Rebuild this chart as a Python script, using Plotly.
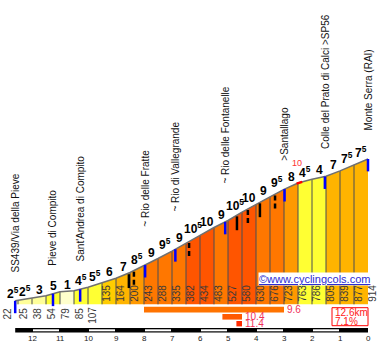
import numpy as np
import plotly.graph_objects as go

# ---------------- data ----------------
km_marks = [12.6, 12.5, 12.0, 11.5, 11.0, 10.5, 10.0, 9.5, 9.0, 8.5, 8.0, 7.5, 7.0,
            6.5, 6.0, 5.5, 5.0, 4.5, 4.0, 3.5, 3.0, 2.5, 2.0, 1.5, 1.0, 0.5, 0.0]
elevations = [22, 25, 38, 54, 79, 85, 107, 135, 164, 200, 243, 288, 335, 382, 434,
              483, 527, 580, 630, 676, 723, 763, 786, 805, 839, 877, 914]
grades = [2.5, 2.5, 3, 5, 1, 4.5, 5.5, 6, 7, 8.5, 9, 9.5, 9, 10.5, 10, 9, 10.5, 10,
          9, 9.5, 8, 4.5, 4, 7, 7.5, 7.5]
place_names = ["SS439/Via della Pieve", "Pieve di Compito", "Sant'Andrea di Compito",
               "~ Rio delle Fratte", "~ Rio di Vallegrande", "~ Rio delle Fontanelle",
               ">Santallago", "Colle del Prato di Calci >SP56", "Monte Serra (RAI)"]
place_km = [12.6, 11.25, 10.28, 7.96, 6.88, 5.1, 2.98, 1.54, 0.0]
place_is_river = [False, False, False, True, True, True, False, False, False]
marker_km = [8.54, 8.36, 6.39, 4.68, 4.29, 3.86, 3.32]
marker_dashed = [False, True, True, False, True, False, True]
max_grade = 10
max_grade_from_km = 2.55
max_grade_to_km = 2.35
best_values = [9.6, 10.4, 11.4]
best_from_km = [8.0, 5.2, 4.7]
best_to_km = [3.0, 4.5, 4.5]
total_km = 12.6
avg_grade = 7.1
km_ticks = list(range(12, -1, -1))
site = "©www.cyclingcols.com"

# ---------------- geometry / style ----------------
W, H = 383, 345
X0_PX, PX_PER_KM = 368.0, 28.0
Y0_PX, PX_PER_M = 304.3, 0.159


def py(px):
    return 1 - px / H


def grade_color(g):
    if g < 2:
        return "#ffffcc"
    if g < 4:
        return "#ffff99"
    if g < 6:
        return "#ffff33"
    if g < 7:
        return "#ffcc00"
    if g < 8:
        return "#ffb400"
    if g < 9:
        return "#ff9900"
    if g < 10:
        return "#ff7700"
    return "#ff5500"


def grade_text(g):
    whole = int(g)
    if g - whole > 0.01:
        return f"<b>{whole}<sup>5</sup></b>"
    return f"<b>{whole}</b>"


def elev_at(k):
    return float(np.interp(k, km_marks[::-1], elevations[::-1]))


FONT = "Liberation Sans, Arial, sans-serif"
fig = go.Figure()

# filled segments
for i in range(len(grades)):
    k0, k1 = km_marks[i], km_marks[i + 1]
    e0, e1 = elevations[i], elevations[i + 1]
    fig.add_trace(go.Scatter(x=[k0, k0, k1, k1, k0], y=[0, e0, e1, 0, 0], mode="lines",
                             fill="toself", fillcolor=grade_color(grades[i]),
                             line=dict(width=0), hoverinfo="skip"))

# dividers
dx, dy = [], []
for k, e in zip(km_marks[1:-1], elevations[1:-1]):
    dx += [k, k, None]
    dy += [0, e, None]
fig.add_trace(go.Scatter(x=dx, y=dy, mode="lines", line=dict(color="#4a4f55", width=1),
                         hoverinfo="skip"))

# profile outline
fig.add_trace(go.Scatter(x=km_marks, y=elevations, mode="lines",
                         line=dict(color="#707070", width=1.5), hoverinfo="skip"))

# max gradient marker
mk = [max_grade_from_km, max_grade_to_km]
fig.add_trace(go.Scatter(x=mk, y=[elev_at(k) for k in mk], mode="lines",
                         line=dict(color="#ff0000", width=2.5), hoverinfo="skip"))

shapes = []
ann = []

# place markers (blue)
for k in place_km:
    e = elev_at(k)
    shapes.append(dict(type="line", xref="x", yref="y", x0=k, x1=k, y0=e, y1=e - 78,
                       line=dict(color="#0000ff", width=2.5)))
# black markers
for k, d in zip(marker_km, marker_dashed):
    e = elev_at(k)
    shapes.append(dict(type="line", xref="x", yref="y", x0=k, x1=k, y0=e - 8, y1=e - 95,
                       line=dict(color="#000000", width=2.5, dash="5px,3px" if d else "solid")))

# gradient labels
for i, g in enumerate(grades):
    k0, k1 = km_marks[i], km_marks[i + 1]
    ann.append(dict(x=(k0 + k1) / 2, y=max(elevations[i], elevations[i + 1]), xref="x", yref="y",
                    text=grade_text(g), showarrow=False, xanchor="center", yanchor="bottom",
                    xshift=-4 if i == 0 else 0, yshift=-3,
                    font=dict(family=FONT, size=12, color="#000000")))

# elevation labels
for i, (k, e) in enumerate(zip(km_marks, elevations)):
    inside = e >= 120
    ann.append(dict(x=k, y=0, xref="x", yref="y", text=str(e), textangle=-90, showarrow=False,
                    xanchor="center", yanchor="bottom" if inside else "top",
                    yshift=0 if inside else -1, xshift=-8 if i == 0 else 5,
                    font=dict(family=FONT, size=10, color="#3a3a3a")))

# place names
for name, k, river in zip(place_names, place_km, place_is_river):
    ann.append(dict(x=k, y=elev_at(k), xref="x", yref="y", text=name, textangle=-90,
                    showarrow=False, xanchor="center", yanchor="bottom",
                    yshift=36 if river else 26,
                    font=dict(family=FONT, size=10, color="#111111")))

# max gradient label
ann.append(dict(x=max_grade_from_km, y=elev_at(max_grade_from_km), xref="x", yref="y",
                text=str(max_grade), showarrow=False, xanchor="center", yanchor="middle",
                yshift=21, font=dict(family=FONT, size=9, color="#ff3333")))

# watermark
ann.append(dict(x=314 / W, y=py(279), xref="paper", yref="paper", text=f"<u>{site}</u>",
                showarrow=False, xanchor="center", yanchor="middle", bgcolor="#ffffff",
                borderpad=0, font=dict(family=FONT, size=11, color="#2d2dd2")))

# best stretches bars
rows = [(306.8, 312.4, "#ff7300"), (314.0, 319.6, "#ff5a00"), (321.0, 326.4, "#ff2a00")]
for v, a, b, (t, btm, c) in zip(best_values, best_from_km, best_to_km, rows):
    shapes.append(dict(type="rect", xref="x", yref="paper", x0=a, x1=b, y0=py(btm), y1=py(t),
                       fillcolor=c, line=dict(width=0)))
    ann.append(dict(x=b, y=py((t + btm) / 2), xref="x", yref="paper", text=f"{v:.1f}",
                    showarrow=False, xanchor="left", yanchor="middle", xshift=1,
                    font=dict(family=FONT, size=10, color="#f0305a")))

# summary box
box_w_km = 36 / PX_PER_KM
shapes.append(dict(type="rect", xref="x", yref="paper", x0=box_w_km, x1=0,
                   y0=py(325.7), y1=py(307.7), line=dict(color="#ff0000", width=1)))
ann.append(dict(x=box_w_km, y=py(312.3), xref="x", yref="paper", text=f"{total_km}km",
                showarrow=False, xanchor="left", yanchor="middle", xshift=1,
                font=dict(family=FONT, size=10, color="#ff2020")))
ann.append(dict(x=box_w_km, y=py(321.0), xref="x", yref="paper", text=f"{avg_grade}%",
                showarrow=False, xanchor="left", yanchor="middle", xshift=1,
                font=dict(family=FONT, size=10, color="#ff2020")))

# km scale bar
shapes.append(dict(type="rect", xref="x", yref="paper", x0=total_km, x1=0,
                   y0=py(332.5), y1=py(328.0), fillcolor="#000000", line=dict(width=0)))
inset = 1 / PX_PER_KM
for k in km_ticks:
    if k % 2 == 0 and k > 0:
        shapes.append(dict(type="rect", xref="x", yref="paper", x0=k - inset, x1=k - 1 + inset,
                           y0=py(331.3), y1=py(329.3), fillcolor="#ffffff", line=dict(width=0)))
for k in km_ticks:
    ann.append(dict(x=k, y=py(338.5), xref="x", yref="paper", text=str(k), showarrow=False,
                    xanchor="center", yanchor="middle",
                    font=dict(family=FONT, size=8, color="#222222")))

fig.update_layout(
    width=W, height=H, margin=dict(l=0, r=0, t=0, b=0),
    paper_bgcolor="#ffffff", plot_bgcolor="#ffffff", showlegend=False,
    xaxis=dict(range=[X0_PX / PX_PER_KM, (X0_PX - W) / PX_PER_KM], visible=False, fixedrange=True),
    yaxis=dict(range=[(Y0_PX - H) / PX_PER_M, Y0_PX / PX_PER_M], visible=False, fixedrange=True),
    shapes=shapes, annotations=ann,
)

fig.write_html("out.html", config={"displayModeBar": False})
